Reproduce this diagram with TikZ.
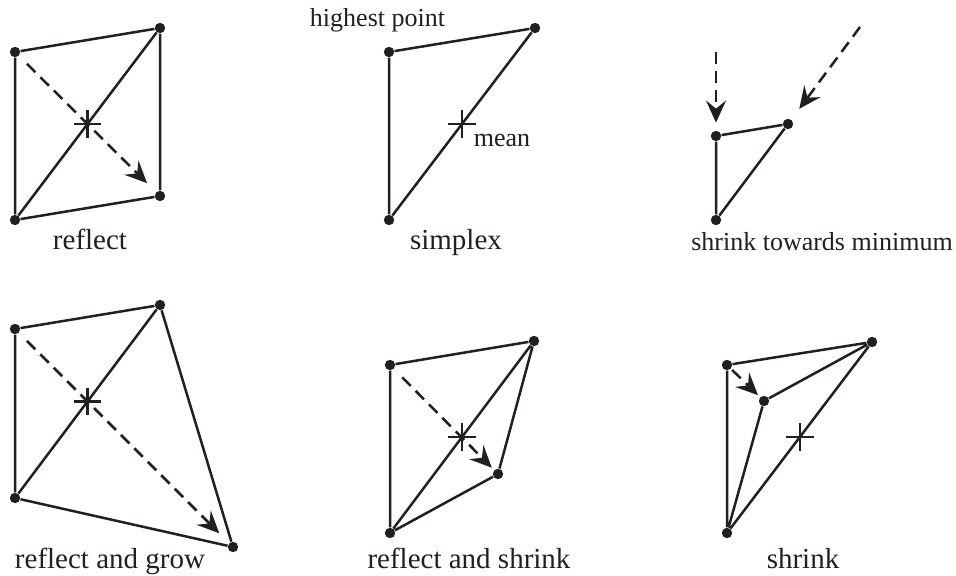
\documentclass[tikz,border=0pt]{standalone}
\usepackage{fontspec}
\setmainfont{Liberation Serif}
\usetikzlibrary{arrows.meta,shapes.misc}
\definecolor{nmInk}{HTML}{231F20}
\tikzset{
  nm vertex/.style={circle, fill=nmInk, inner sep=0pt, minimum size=5.2pt},
  nm edge/.style={draw=nmInk, line width=1.25pt},
  nm move/.style={
    draw=nmInk,
    line width=1.25pt,
    dash pattern=on 6pt off 3.5pt,
    -{Stealth[length=11pt,width=10pt,inset=4pt]}
  },
  nm mean/.style={draw=nmInk, line width=1.1pt, cross out, rotate=45,
    minimum size=8.5pt, inner sep=0pt},
  nm label/.style={font=\fontsize{14.5}{17}\selectfont, text=nmInk, anchor=base},
  nm note/.style={font=\fontsize{13}{15}\selectfont, text=nmInk, anchor=base}
}

\begin{document}
\begin{tikzpicture}[x=.5pt,y=-.5pt]
  \useasboundingbox (0,0) rectangle (956,576);

  % reflect
  \node[nm vertex] (ra) at (15,52) {};
  \node[nm vertex] (rb) at (160,28) {};
  \node[nm vertex] (rc) at (15,220) {};
  \node[nm vertex] (rd) at (160,196) {};
  \node[nm mean] (rm) at (87.5,124) {};
  \draw[nm edge] (ra) -- (rb) (ra) -- (rc) (rc) -- (rb) (rb) -- (rd) (rc) -- (rd);
  \draw[nm move, shorten <=5.6pt, shorten >=6.3pt] (ra) -- (rd);
  \node[nm label] (rl) at (90,250) {reflect};

  % simplex
  \node[nm vertex] (sa) at (389,52) {};
  \node[nm vertex] (sb) at (535,28) {};
  \node[nm vertex] (sc) at (389,220) {};
  \node[nm mean] (sm) at (462,124) {};
  \draw[nm edge] (sa) -- (sb) (sa) -- (sc) (sc) -- (sb);
  \node[nm note] (sh) at (377.5,27) {highest point};
  \node[nm note] (sn) at (502,147) {mean};
  \node[nm label] (sl) at (456,250) {simplex};

  % shrink towards minimum
  \coordinate (ta0) at (716,52);
  \coordinate (tb0) at (860,27);
  \node[nm vertex] (ta) at (716,136) {};
  \node[nm vertex] (tb) at (788,124) {};
  \node[nm vertex] (tc) at (716,220) {};
  \draw[nm edge] (ta) -- (tb) (ta) -- (tc) (tc) -- (tb);
  \draw[nm move, shorten >=3.9pt] (ta0) -- (ta);
  \draw[nm move, shorten >=6.6pt] (tb0) -- (tb);
  \node[nm note] (tl) at (822,251) {shrink towards minimum};

  % reflect and grow
  \node[nm vertex] (ga) at (15,329) {};
  \node[nm vertex] (gb) at (160,305) {};
  \node[nm vertex] (gc) at (15,498) {};
  \node[nm vertex] (gd) at (233,547) {};
  \node[nm mean] (gm) at (87.5,401.5) {};
  \draw[nm edge] (ga) -- (gb) (ga) -- (gc) (gc) -- (gb) (gb) -- (gd) (gc) -- (gd);
  \draw[nm move, shorten <=5.6pt, shorten >=6.9pt] (ga) -- (gd);
  \node[nm label] (gl) at (110,568) {reflect and grow};

  % reflect and shrink
  \node[nm vertex] (ka) at (390,365) {};
  \node[nm vertex] (kb) at (534,341) {};
  \node[nm vertex] (kc) at (390,533) {};
  \node[nm vertex] (kd) at (498,474) {};
  \node[nm mean] (km) at (462,437) {};
  \draw[nm edge] (ka) -- (kb) (ka) -- (kc) (kc) -- (kb) (kb) -- (kd) (kc) -- (kd);
  \draw[nm move, shorten <=5.9pt, shorten >=1.6pt] (ka) -- (kd);
  \node[nm label] (kl) at (469,568) {reflect and shrink};

  % shrink
  \node[nm vertex] (ha) at (727,365) {};
  \node[nm vertex] (hb) at (872,342) {};
  \node[nm vertex] (hc) at (727,533) {};
  \node[nm vertex] (hd) at (764,401) {};
  \node[nm mean] (hm) at (800,437) {};
  \draw[nm edge] (ha) -- (hb) (ha) -- (hc) (hc) -- (hb) (hb) -- (hd) (hc) -- (hd);
  \draw[nm move, shorten <=.8pt, shorten >=1.4pt] (ha) -- (hd);
  \node[nm label] (hl) at (803,568) {shrink};
\end{tikzpicture}
\end{document}
